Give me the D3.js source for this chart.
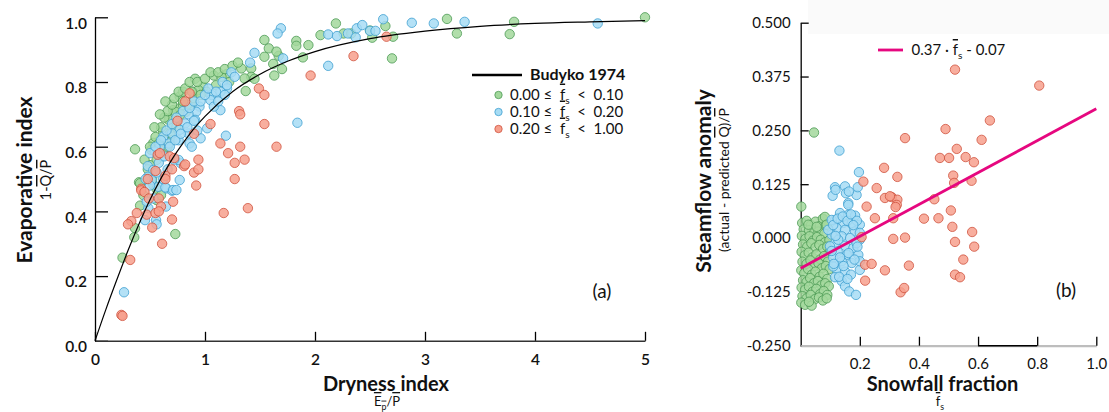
<!DOCTYPE html>
<html>
<head>
<meta charset="utf-8">
<title>Budyko and snowfall</title>
<script src="https://d3js.org/d3.v7.min.js"></script>
<style>
  body { margin: 0; background: #fff; }
  text { font-family: Lato, "Open Sans", sans-serif; fill: #111; white-space: pre; }
</style>
</head>
<body>
<svg width="1109" height="412"></svg>
<script>
// ---- panel (a) data: dryness index vs evaporative index ----
var budykoX = [0, 0.1, 0.2, 0.3, 0.4, 0.5, 0.6, 0.7, 0.8, 0.9, 1.0, 1.25, 1.5, 1.75, 2.0, 2.5, 3.0, 3.5, 4.0, 4.5, 5.0];
var budykoY = [0, 0.098, 0.19, 0.279, 0.361, 0.436, 0.502, 0.561, 0.611, 0.656, 0.694, 0.770, 0.824, 0.864, 0.894, 0.934, 0.957, 0.972, 0.981, 0.986, 0.990];

var leftGreen = [
  [2.19,0.981],[2.05,0.945],[2.26,0.95],[2.33,0.95],[2.64,0.973],[2.52,0.937],[2.71,0.94],[2.70,0.873],
  [3.20,0.995],[3.29,0.95],[3.81,0.986],[3.77,0.948],[5.0,1.0],[1.54,0.93],[1.58,0.904],[1.83,0.927],
  [1.83,0.912],[1.94,0.914],[1.54,0.878],[1.67,0.881],[1.89,0.876],[1.62,0.856],[1.70,0.84],[1.63,0.82],
  [1.42,0.842],[1.42,0.816],[0.364,0.592],[0.91,0.81],[1.08,0.82],[1.20,0.825],[1.37,0.772],[1.45,0.81],
  [1.65,0.894],[2.5,0.959],[0.40,0.49],[0.77,0.755],[0.80,0.77],[0.71,0.713],[0.68,0.688],[0.985,0.785],
  [1.15,0.816],[1.33,0.842],[1.36,0.811],[0.89,0.77],[0.94,0.775],[1.015,0.77],[0.77,0.719],[0.73,0.708],
  [0.74,0.683],[0.67,0.683],[0.70,0.657],[0.62,0.646],[0.59,0.62],[0.53,0.612],[0.51,0.59],[0.56,0.559],
  [0.50,0.543],[0.41,0.487],[0.83,0.708],[0.88,0.729],[0.80,0.729],[0.41,0.418],[0.364,0.348],[0.357,0.32],
  [0.25,0.257],[0.73,0.33],[0.56,0.435],[0.53,0.482],
  [0.45,0.56],[0.5,0.6],[0.55,0.63],[0.6,0.66],[0.63,0.69],[0.66,0.71],[0.7,0.73],[0.72,0.75],[0.76,0.77],
  [0.82,0.78],[0.86,0.8],[0.93,0.8],[1.0,0.81],[1.05,0.83],[1.12,0.83],[1.18,0.84],[1.25,0.85],[1.3,0.86],
  [0.58,0.61],[0.62,0.58],[0.68,0.64],[0.74,0.66],[0.78,0.7],[0.84,0.73],[0.9,0.75],[0.96,0.76],[1.1,0.79],
  [1.22,0.8],[0.48,0.53],[0.52,0.5],[0.56,0.47],[0.44,0.45],[0.6,0.45],[0.66,0.6],[0.7,0.62],[0.54,0.66],
  [0.59,0.7],[0.64,0.74],[0.8,0.74],[0.88,0.77]
];
var leftBlue = [
  [1.69,0.966],[1.66,0.95],[1.45,0.89],[1.41,0.86],[1.71,0.873],[2.12,0.85],[1.84,0.674],[2.12,0.947],
  [2.20,0.942],[2.30,0.95],[2.37,0.938],[2.38,0.966],[2.43,0.976],[2.50,0.958],[2.55,0.958],[2.62,0.994],
  [2.88,0.983],[3.08,0.981],[3.36,0.986],[4.57,0.981],
  [1.24,0.83],[1.27,0.816],[1.16,0.80],[1.20,0.78],[1.14,0.77],[1.06,0.76],[1.05,0.744],[1.14,0.713],
  [1.08,0.724],[0.95,0.724],[0.92,0.708],[0.91,0.683],[0.85,0.70],[0.82,0.672],[0.77,0.652],[0.85,0.641],
  [0.96,0.626],[0.86,0.61],[1.19,0.634],[0.76,0.62],[0.70,0.641],[0.67,0.61],[0.62,0.631],[0.59,0.60],
  [0.545,0.585],[0.61,0.57],[0.78,0.549],[0.76,0.559],[0.48,0.54],[0.53,0.528],[0.48,0.507],[0.77,0.497],
  [0.65,0.471],[0.575,0.476],[0.515,0.497],[0.70,0.464],[0.64,0.474],[1.02,0.657],[0.71,0.466],[0.74,0.466],
  [0.645,0.415],[0.485,0.41],[0.455,0.373],[0.555,0.373],[0.56,0.36],[0.264,0.15],
  [0.5,0.58],[0.55,0.6],[0.6,0.62],[0.65,0.65],[0.7,0.67],[0.74,0.69],[0.8,0.71],[0.86,0.72],[0.9,0.74],
  [0.96,0.74],[1.0,0.76],[1.03,0.78],[1.1,0.77],[0.58,0.55],[0.63,0.57],[0.68,0.6],[0.73,0.62],[0.78,0.64],
  [0.84,0.66],[0.9,0.68],[0.56,0.52],[0.62,0.5],[0.66,0.53],[0.72,0.56],[0.5,0.48],[0.46,0.5],[0.53,0.44],
  [0.47,0.43],[0.88,0.6],[1.12,0.74],[1.18,0.76],[1.2,0.79],[0.93,0.65]
];
var leftRed = [
  [2.65,0.94],[2.35,0.88],[1.96,0.82],[1.49,0.78],[1.54,0.76],[1.54,0.67],[1.65,0.60],[0.86,0.765],
  [0.82,0.74],[1.31,0.71],[1.32,0.70],[1.05,0.67],[0.75,0.68],[0.90,0.64],[1.14,0.61],[1.32,0.60],
  [1.21,0.58],[1.36,0.56],[1.27,0.55],[0.94,0.56],[0.81,0.54],[0.70,0.53],[0.90,0.52],[0.94,0.53],
  [1.27,0.50],[0.57,0.575],[0.68,0.57],[0.72,0.565],[0.55,0.525],[0.64,0.51],[0.64,0.50],[0.48,0.50],
  [0.92,0.48],[0.42,0.47],[0.42,0.465],[0.45,0.46],[0.49,0.44],[0.58,0.44],[0.71,0.43],[0.60,0.415],
  [1.39,0.41],[1.17,0.395],[0.38,0.395],[0.47,0.39],[0.55,0.395],[0.58,0.40],[0.33,0.37],[0.30,0.36],
  [0.70,0.375],[0.52,0.35],[0.61,0.30],[0.32,0.25],[0.24,0.08],[0.25,0.077],[0.59,0.58],[0.82,0.545]
];
var xTicksA = [0, 1, 2, 3, 4, 5];
var yTicksA = [0, 0.2, 0.4, 0.6, 0.8, 1.0];
var legendA = [["0.00", "0.10"], ["0.10", "0.20"], ["0.20", "1.00"]];

// ---- panel (b) data: snowfall fraction vs streamflow anomaly ----
var rightGreen = [
  [0.005,0.035],[0.02,0.04],[0.035,0.03],[0.05,0.038],[0.065,0.028],[0.075,0.045],[0.085,0.03],[0.095,0.02],
  [0.01,0.02],[0.028,0.018],[0.045,0.012],[0.06,0.015],[0.08,0.01],
  [0.004,0.005],[0.016,-0.002],[0.03,0.004],[0.042,-0.006],[0.055,0.002],[0.068,-0.004],[0.082,-0.01],
  [0.097,-0.005],[0.008,-0.015],[0.022,-0.02],[0.036,-0.012],[0.05,-0.022],[0.063,-0.016],[0.076,-0.025],
  [0.09,-0.02],[0.1,-0.03],
  [0.003,-0.032],[0.014,-0.04],[0.027,-0.034],[0.04,-0.045],[0.053,-0.038],[0.066,-0.05],[0.079,-0.042],
  [0.092,-0.055],[0.006,-0.055],[0.02,-0.06],[0.033,-0.052],[0.047,-0.065],[0.06,-0.058],[0.072,-0.07],
  [0.085,-0.065],[0.098,-0.072],
  [0.002,-0.075],[0.012,-0.082],[0.025,-0.072],[0.038,-0.085],[0.05,-0.078],[0.064,-0.09],[0.077,-0.083],
  [0.09,-0.095],[0.008,-0.098],[0.02,-0.102],[0.032,-0.093],[0.045,-0.105],[0.058,-0.1],[0.07,-0.11],
  [0.083,-0.105],[0.095,-0.112],
  [0.003,-0.115],[0.015,-0.12],[0.028,-0.113],[0.04,-0.125],[0.053,-0.118],[0.066,-0.13],[0.078,-0.123],
  [0.09,-0.132],[0.006,-0.135],[0.02,-0.14],[0.034,-0.132],[0.048,-0.142],[0.062,-0.138],[0.075,-0.145],
  [0.088,-0.14],[0.002,-0.15],[0.015,-0.155],[0.037,-0.157],[0.028,-0.148],
  [0.045,0.245],[0.002,0.073],[0.082,0.049],[0.088,0.031],[0.026,0.031],[0.054,0.026]
];
var rightBlue = [
  [0.131,0.203],[0.197,0.153],[0.116,0.118],[0.15,0.12],[0.153,0.104],[0.189,0.10],[0.193,0.118],[0.108,0.098],
  [0.161,0.081],[0.133,0.058],[0.161,0.054],[0.184,0.052],[0.116,0.042],[0.144,0.035],[0.173,0.035],[0.20,0.031],
  [0.122,0.023],[0.15,0.019],[0.184,0.015],[0.105,0.008],[0.139,0.004],[0.167,0.0],[0.20,-0.004],[0.116,-0.012],
  [0.15,-0.018],[0.178,-0.023],[0.125,-0.031],[0.156,-0.039],[0.195,-0.039],[0.11,-0.046],[0.139,-0.054],
  [0.173,-0.058],[0.20,-0.074],[0.123,-0.074],[0.15,-0.078],[0.116,-0.091],[0.139,-0.10],[0.15,-0.112],
  [0.164,-0.124],[0.187,-0.132],[0.093,0.019],[0.099,-0.019],[0.105,0.042],[0.127,-0.004],[0.189,-0.012],
  [0.20,0.012],[0.161,0.077],[0.20,-0.054],[0.11,-0.066],[0.118,0.112],[0.163,0.108],
  [0.11,0.03],[0.125,0.045],[0.142,0.05],[0.158,0.04],[0.17,0.055],[0.19,0.04],[0.105,-0.03],[0.133,-0.045],
  [0.162,-0.035],[0.182,-0.05],[0.112,-0.06],[0.145,-0.065],[0.17,-0.085],[0.13,-0.09],[0.158,-0.095],
  [0.192,-0.02],[0.178,0.03],[0.118,0.005]
];
var rightRed = [
  [0.522,0.391],[0.807,0.354],[0.64,0.273],[0.49,0.253],[0.353,0.232],[0.612,0.228],[0.528,0.207],[0.471,0.186],
  [0.502,0.186],[0.558,0.188],[0.586,0.176],[0.282,0.163],[0.327,0.142],[0.516,0.145],[0.519,0.128],[0.578,0.133],
  [0.285,0.093],[0.308,0.095],[0.327,0.089],[0.325,0.077],[0.321,0.072],[0.452,0.09],[0.313,0.046],[0.417,0.045],
  [0.466,0.046],[0.508,0.064],[0.513,0.026],[0.58,0.014],[0.313,-0.002],[0.353,0.001],[0.522,-0.009],[0.587,-0.02],
  [0.55,-0.05],[0.285,-0.075],[0.366,-0.064],[0.522,-0.085],[0.539,-0.091],[0.338,-0.126],[0.35,-0.116],
  [0.212,0.131],[0.257,0.116],[0.302,0.097],[0.223,0.073],[0.251,0.046],[0.218,-0.062],[0.24,-0.06],
  [0.218,-0.099],[0.206,0.002]
];
var fitLine = [[0, -0.07], [1.0, 0.30]];
var xTicksB = [0.2, 0.4, 0.6, 0.8, 1.0];
var yTicksB = [-0.25, -0.125, 0, 0.125, 0.25, 0.375, 0.5];

var colors = {
  green: { fill: "#a3d89c", stroke: "#4c9a55" },
  blue:  { fill: "#a7dcf4", stroke: "#3f9fd1" },
  red:   { fill: "#f7a08d", stroke: "#cf533f" }
};
var groupColors = [colors.green, colors.blue, colors.red];
var magenta = "#e6077f";

var svg = d3.select("svg");

// text with overlined / subscript pieces
function rich(sel, parts, size) {
  var shift = 0;
  parts.forEach(function(p) {
    var ts = sel.append("tspan").text(p[0]);
    var f = p[1] || "";
    var dy = 0;
    if (f.indexOf("s") >= 0) { ts.attr("font-size", size * 0.68); dy = size * 0.28; }
    if (dy !== shift) ts.attr("dy", dy - shift);
    shift = dy;
    if (f.indexOf("o") >= 0) ts.style("text-decoration", "overline");
  });
  return sel;
}

function dots(g, data, x, y, c) {
  g.append("g").selectAll("circle")
    .data(data)
    .enter().append("circle")
    .attr("cx", function(d) { return x(d[0]); })
    .attr("cy", function(d) { return y(d[1]); })
    .attr("r", 4.7)
    .attr("fill", c.fill)
    .attr("fill-opacity", 0.85)
    .attr("stroke", c.stroke)
    .attr("stroke-width", 0.8);
}

// ================= panel (a) =================
var xA = d3.scaleLinear().domain([0, 5]).range([95, 645]);
var yA = d3.scaleLinear().domain([0, 1]).range([340.8, 17.3]);
var gA = svg.append("g");

var axA = gA.append("g").attr("transform", "translate(95,0)")
  .call(d3.axisLeft(yA).tickValues(yTicksA).tickFormat(d3.format(".1f"))
    .tickSize(-13).tickSizeOuter(0).tickPadding(8));
axA.selectAll("text").attr("dy", "0.7em");

var axAx = gA.append("g").attr("transform", "translate(0,340.8)")
  .call(d3.axisBottom(xA).tickValues(xTicksA).tickFormat(d3.format("d"))
    .tickSize(-9).tickSizeOuter(0).tickPadding(13));
axAx.select(".domain").attr("stroke", "#333").attr("stroke-width", 1.6);

[axA, axAx].forEach(function(a) {
  a.attr("font-size", 15.5).attr("font-family", null);
  a.selectAll("text").attr("font-weight", 600);
  a.selectAll("line").attr("stroke", "#000").attr("stroke-width", 1.3);
});
axA.select(".domain").attr("stroke", "#000").attr("stroke-width", 1.3);

dots(gA, leftGreen, xA, yA, colors.green);
dots(gA, leftBlue, xA, yA, colors.blue);
dots(gA, leftRed, xA, yA, colors.red);

gA.append("path")
  .datum(d3.zip(budykoX, budykoY))
  .attr("fill", "none")
  .attr("stroke", "#000")
  .attr("stroke-width", 1.2)
  .attr("d", d3.line().x(function(d) { return xA(d[0]); }).y(function(d) { return yA(d[1]); })
    .curve(d3.curveMonotoneX));

// titles (a)
gA.append("text").attr("transform", "translate(32,180) rotate(-90)")
  .attr("text-anchor", "middle").attr("font-size", 21).attr("font-weight", 700)
  .text("Evaporative index");
rich(gA.append("text").attr("transform", "translate(51,180) rotate(-90)")
  .attr("text-anchor", "middle").attr("font-size", 14.5),
  [["1-"], ["Q", "o"], ["/"], ["P", "o"]], 14.5);

gA.append("text").attr("x", 386).attr("y", 391)
  .attr("text-anchor", "middle").attr("font-size", 20).attr("font-weight", 700)
  .text("Dryness index");
rich(gA.append("text").attr("x", 387).attr("y", 406)
  .attr("text-anchor", "middle").attr("font-size", 13),
  [["E", "o"], ["p", "os"], ["/"], ["P", "o"]], 13);

gA.append("text").attr("x", 602).attr("y", 298).attr("text-anchor", "middle")
  .attr("font-size", 19).text("(a)");

// legend (a)
gA.append("line").attr("x1", 472).attr("x2", 522).attr("y1", 75).attr("y2", 75)
  .attr("stroke", "#000").attr("stroke-width", 2.5);
gA.append("text").attr("x", 530).attr("y", 79.5).attr("font-size", 16).attr("font-weight", 700)
  .text("Budyko 1974");
legendA.forEach(function(r, i) {
  var yy = 95 + i * 17;
  gA.append("circle").attr("cx", 498.5).attr("cy", yy).attr("r", 3.7)
    .attr("fill", groupColors[i].fill).attr("stroke", groupColors[i].stroke).attr("stroke-width", 0.8);
  rich(gA.append("text").attr("x", 510).attr("y", yy + 4.5).attr("font-size", 15),
    [[r[0] + " \u2264  "], ["f", "o"], ["s", "s"], ["  <  " + r[1]]], 15);
});

// ================= panel (b) =================
var xB = d3.scaleLinear().domain([0, 1]).range([800.7, 1096.3]);
var yB = d3.scaleLinear().domain([-0.25, 0.5]).range([345.7, 22.7]);
var gB = svg.append("g");

gB.append("rect").attr("x", 808).attr("y", 0).attr("width", 301).attr("height", 34).attr("fill", "#fafafa");

var axB = gB.append("g").attr("transform", "translate(800.7,0)")
  .call(d3.axisLeft(yB).tickValues(yTicksB)
    .tickFormat(function(d) { return d3.format(".3f")(d).replace("\u2212", "-"); })
    .tickSize(-8).tickSizeOuter(0).tickPadding(10));
var axBx = gB.append("g").attr("transform", "translate(0,345.7)")
  .call(d3.axisBottom(xB).tickValues(xTicksB).tickFormat(d3.format(".1f"))
    .tickSize(-9).tickSizeOuter(0).tickPadding(13));
[axB, axBx].forEach(function(a) {
  a.attr("font-size", 15).attr("font-family", null);
  a.selectAll("line").attr("stroke", "#000").attr("stroke-width", 1.3);
});
axB.select(".domain").attr("stroke", "#000").attr("stroke-width", 1.3);
axBx.select(".domain").attr("stroke", "#bdbdbd").attr("stroke-width", 2.2);
gB.append("line").attr("x1", xB(0.6)).attr("x2", xB(0.8)).attr("y1", yB(-0.25)).attr("y2", yB(-0.25))
  .attr("stroke", "#000").attr("stroke-width", 1.4);

dots(gB, rightGreen, xB, yB, colors.green);
dots(gB, rightBlue, xB, yB, colors.blue);
dots(gB, rightRed, xB, yB, colors.red);

gB.append("path")
  .datum(fitLine)
  .attr("fill", "none")
  .attr("stroke", magenta)
  .attr("stroke-width", 2.8)
  .attr("d", d3.line().x(function(d) { return xB(d[0]); }).y(function(d) { return yB(d[1]); }));

// titles (b)
gB.append("text").attr("transform", "translate(711,181) rotate(-90)")
  .attr("text-anchor", "middle").attr("font-size", 21).attr("font-weight", 700)
  .text("Steamflow anomaly");
rich(gB.append("text").attr("transform", "translate(729,180) rotate(-90)")
  .attr("text-anchor", "middle").attr("font-size", 14),
  [["(actual - predicted "], ["Q", "o"], [")/"], ["P", "o"]], 14);

gB.append("text").attr("x", 942.5).attr("y", 391)
  .attr("text-anchor", "middle").attr("font-size", 20).attr("font-weight", 700)
  .text("Snowfall fraction");
rich(gB.append("text").attr("x", 940).attr("y", 406)
  .attr("text-anchor", "middle").attr("font-size", 13),
  [["f", "o"], ["s", "s"]], 13);

gB.append("text").attr("x", 1066).attr("y", 297).attr("text-anchor", "middle")
  .attr("font-size", 19).text("(b)");

// legend (b)
gB.append("line").attr("x1", 878).attr("x2", 903).attr("y1", 50).attr("y2", 50)
  .attr("stroke", magenta).attr("stroke-width", 2.8);
rich(gB.append("text").attr("x", 911.5).attr("y", 55).attr("font-size", 15),
  [["0.37 \u00b7 "], ["f", "o"], ["s", "s"], [" - 0.07"]], 15);
</script>
</body>
</html>
